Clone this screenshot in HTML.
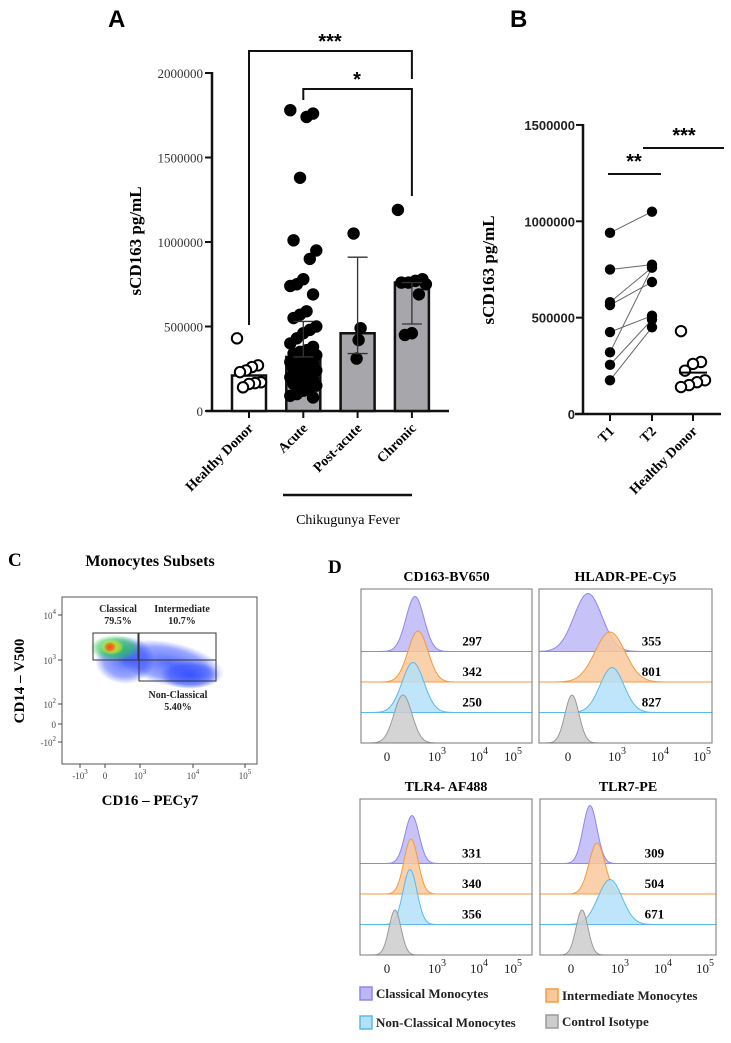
<!DOCTYPE html>
<html><head><meta charset="utf-8"><style>
html,body{margin:0;padding:0;background:#fff}
svg{display:block}
.serif{font-family:"Liberation Serif",serif}
.sans{font-family:"Liberation Sans",sans-serif}
</style></head><body>
<svg id="fig" width="731" height="1043" viewBox="0 0 731 1043" xmlns="http://www.w3.org/2000/svg">
<g id="gA"></g>
<g id="gB"></g>
<g id="gC"></g>
<g id="gD"></g>
</svg>
<script>
// ---- Panel A data ----
const catsA = ["Healthy Donor","Acute","Post-acute","Chronic"];
const meansA = [210000, 320000, 460000, 760000];
const errHiA = [210000, 530000, 910000, 760000];
const errLoA = [210000, 320000, 340000, 515000];
const healthyA = [430000,270000,260000,240000,230000,170000,165000,160000,140000];
const acuteA = [1780000,1760000,1740000,1380000,1010000,950000,900000,780000,750000,740000,690000,590000,570000,550000,500000,480000,460000,430000,400000,380000,360000,350000,340000,330000,320000,310000,300000,290000,280000,270000,260000,250000,240000,230000,220000,210000,200000,190000,180000,170000,160000,150000,140000,120000,100000,90000,80000];
const postA = [1050000,490000,420000,310000];
const chronicA = [1190000,780000,770000,760000,760000,750000,690000,460000,450000];
const ticksA = [0,500000,1000000,1500000,2000000];
// ---- Panel B data ----
const t1B = [940000,750000,580000,565000,425000,320000,255000,175000];
const t2B = [1050000,775000,760000,685000,510000,760000,490000,450000];
const hdB = [430000,270000,260000,225000,175000,165000,150000,140000];
const hdMeanB = 215000;
const ticksB = [0,500000,1000000,1500000];
const catsB = ["T1","T2","Healthy Donor"];
// ---- Panel D data ----
const histTitles = ["CD163-BV650","HLADR-PE-Cy5","TLR4- AF488","TLR7-PE"];
const mfiVals = [[297,342,250],[355,801,827],[331,340,356],[309,504,671]];
const peakCenters = [[415,418,413,403],[588,610,612,572],[412,411,410,395],[590,597,610,582]];

const NS="http://www.w3.org/2000/svg";
function mk(parent,tag,attrs,text){const e=document.createElementNS(NS,tag);for(const k in attrs)e.setAttribute(k,attrs[k]);if(text!==undefined)e.textContent=text;parent.appendChild(e);return e;}

// ===== Panel A =====
(function(){
const g=document.getElementById('gA');
const y0=411, pxPerM=169, xAxis=212;
const yA=v=>y0-v/1e6*pxPerM;
const xA=i=>249+i*54.3;
let t=mk(g,'text',{x:108,y:27,'font-size':24,'font-weight':'bold',class:'sans'},'A');

// axes
let ax=mk(g,'line',{x1:xAxis,y1:y0+1,x2:xAxis,y2:72,stroke:'#111','stroke-width':2.5});

let xa=mk(g,'line',{x1:206,y1:y0,x2:449,y2:y0,stroke:'#111','stroke-width':2.5});

ticksA.forEach(v=>{
 let l=mk(g,'line',{x1:xAxis-7,y1:yA(v),x2:xAxis,y2:yA(v),stroke:'#111','stroke-width':2});
 
 let tt=mk(g,'text',{x:xAxis-9,y:yA(v)+5,'font-size':13,'text-anchor':'end',fill:'#333',class:'serif'},String(v));
 
});
let yt=mk(g,'text',{x:0,y:0,'font-size':17,'font-weight':'bold','text-anchor':'middle',class:'serif',transform:'translate(141,241) rotate(-90)'},'sCD163 pg/mL');

// bars
catsA.forEach((c,i)=>{
 const x=xA(i);
 let b=mk(g,'rect',{x:x-17,y:yA(meansA[i]),width:34,height:y0-yA(meansA[i]),fill:i==0?'#fff':'#a7a7ab',stroke:'#111','stroke-width':2.5});
 
 let tk=mk(g,'line',{x1:x,y1:y0,x2:x,y2:y0+7,stroke:'#111','stroke-width':2});
 
 let lb=mk(g,'text',{x:0,y:0,'font-size':14,'font-weight':'bold','text-anchor':'end',class:'serif',transform:`translate(${x+5},${y0+18}) rotate(-45)`},c);
 
});
function dots(vals,i,open,spread){
 vals.forEach((v,j)=>{
  const off=spread?(((j*7)%9)-4)*spread/4:0;
  let d=mk(g,'circle',{cx:xA(i)+off,cy:yA(v),r:5.2,fill:open?'#fff':'#000',stroke:'#000','stroke-width':2});
  
 });
}
dots(healthyA,0,true,12);dots(acuteA,1,false,13);dots(postA,2,false,4);dots(chronicA,3,false,14);
// error bars
[1,2,3].forEach(i=>{
 const x=xA(i);
 let e=mk(g,'path',{d:`M${x},${yA(errLoA[i])}V${yA(errHiA[i])}M${x-10},${yA(errHiA[i])}H${x+10}M${x-10},${yA(errLoA[i])}H${x+10}`,stroke:'#333','stroke-width':1.3,fill:'none'});
 
});
// brackets
let br1=mk(g,'path',{d:`M${xA(0)},325V51H${xA(3)}V79`,fill:'none',stroke:'#111','stroke-width':2});

let s1=mk(g,'text',{x:330,y:48,'font-size':20,'font-weight':'bold','text-anchor':'middle',class:'sans'},'***');

let br2=mk(g,'path',{d:`M${xA(1)},100V89H${xA(3)}V196`,fill:'none',stroke:'#111','stroke-width':2});

let s2=mk(g,'text',{x:357,y:86,'font-size':20,'font-weight':'bold','text-anchor':'middle',class:'sans'},'*');

let gl=mk(g,'line',{x1:283,y1:495,x2:412,y2:495,stroke:'#111','stroke-width':2.5});

let gt=mk(g,'text',{x:348,y:524,'font-size':14,'text-anchor':'middle',class:'serif'},'Chikugunya Fever');

})();

// ===== Panel B =====
(function(){
const g=document.getElementById('gB');
const y0=414, pxPerM=192.7, xAx=583;
const yB=v=>y0-v/1e6*pxPerM;
const xB=i=>[610,652,693][i];
let t=mk(g,'text',{x:510,y:27,'font-size':24,'font-weight':'bold',class:'sans'},'B');

let ax=mk(g,'line',{x1:xAx,y1:y0+1,x2:xAx,y2:124,stroke:'#111','stroke-width':2.5});

let xa=mk(g,'line',{x1:575,y1:y0,x2:721,y2:y0,stroke:'#111','stroke-width':2.5});

ticksB.forEach(v=>{
 let l=mk(g,'line',{x1:xAx-7,y1:yB(v),x2:xAx,y2:yB(v),stroke:'#111','stroke-width':2});
 
 let tt=mk(g,'text',{x:xAx-8,y:yB(v)+5,'font-size':13,'font-weight':'bold','text-anchor':'end',fill:'#222',class:'sans'},String(v));
 
});
let yt=mk(g,'text',{x:0,y:0,'font-size':17,'font-weight':'bold','text-anchor':'middle',class:'serif',transform:'translate(494,270) rotate(-90)'},'sCD163 pg/mL');

catsB.forEach((c,i)=>{
 let tk=mk(g,'line',{x1:xB(i),y1:y0,x2:xB(i),y2:y0+7,stroke:'#111','stroke-width':2});
 
 let lb=mk(g,'text',{x:0,y:0,'font-size':14,'font-weight':'bold','text-anchor':'end',class:'serif',transform:`translate(${xB(i)+5},${y0+18}) rotate(-45)`},c);
 
});
t1B.forEach((v,j)=>{
 let l=mk(g,'line',{x1:xB(0),y1:yB(v),x2:xB(1),y2:yB(t2B[j]),stroke:'#666','stroke-width':1});
 
});
t1B.forEach(v=>{let d=mk(g,'circle',{cx:xB(0),cy:yB(v),r:5.2,fill:'#000'});});
t2B.forEach(v=>{let d=mk(g,'circle',{cx:xB(1),cy:yB(v),r:5.2,fill:'#000'});});
hdB.forEach((v,j)=>{
 const off=(((j*5)%7)-3)*4;
 let d=mk(g,'circle',{cx:xB(2)+off,cy:yB(v),r:5.2,fill:'#fff',stroke:'#000','stroke-width':2});
 
});
let ml=mk(g,'line',{x1:xB(2)-14,y1:yB(hdMeanB),x2:xB(2)+14,y2:yB(hdMeanB),stroke:'#000','stroke-width':2});

let b1=mk(g,'line',{x1:608,y1:174,x2:661,y2:174,stroke:'#111','stroke-width':2});

let s1=mk(g,'text',{x:634,y:168,'font-size':20,'font-weight':'bold','text-anchor':'middle',class:'sans'},'**');

let b2=mk(g,'line',{x1:643,y1:148,x2:724,y2:148,stroke:'#111','stroke-width':2});

let s2=mk(g,'text',{x:684,y:142,'font-size':20,'font-weight':'bold','text-anchor':'middle',class:'sans'},'***');

})();

// ===== Panel C =====
(function(){
const g=document.getElementById('gC');
let defs=mk(g,'defs',{});
const grads=[['gBlue','#1f3dff',0.75],['gGreen','#22c84a',0.9],['gYel','#e8e82a',0.9],['gRed','#ff3a10',0.9]];
grads.forEach(([id,c,o])=>{const rg=mk(defs,'radialGradient',{id:id});mk(rg,'stop',{offset:'0%','stop-color':c,'stop-opacity':o});mk(rg,'stop',{offset:'70%','stop-color':c,'stop-opacity':o*0.6});mk(rg,'stop',{offset:'100%','stop-color':c,'stop-opacity':0});});
let t=mk(g,'text',{x:8,y:566,'font-size':19,'font-weight':'bold',class:'serif'},'C');

let ti=mk(g,'text',{x:150,y:566,'font-size':16,'font-weight':'bold','text-anchor':'middle',class:'serif'},'Monocytes Subsets');

let box=mk(g,'rect',{x:62,y:597,width:195,height:167,fill:'#fff',stroke:'#555','stroke-width':1});

// density clouds
mk(g,'ellipse',{cx:170,cy:664,rx:55,ry:22,fill:'url(#gBlue)',transform:'rotate(12 170 664)'});
mk(g,'ellipse',{cx:125,cy:660,rx:30,ry:24,fill:'url(#gBlue)'});
mk(g,'ellipse',{cx:190,cy:675,rx:30,ry:14,fill:'url(#gBlue)'});
mk(g,'ellipse',{cx:115,cy:648,rx:25,ry:13,fill:'url(#gGreen)'});
mk(g,'ellipse',{cx:112,cy:647,rx:12,ry:8,fill:'url(#gYel)'});
mk(g,'ellipse',{cx:110,cy:647,rx:6,ry:5,fill:'url(#gRed)'});
// gates
[['gate-classical',93,633,45,27],['gate-intermediate',139,633,77,27],['gate-non-classical',139,660,77,21]].forEach(([n,x,y,w,h])=>{
 let r=mk(g,'rect',{x:x,y:y,width:w,height:h,fill:'none',stroke:'#333','stroke-width':1});
 
});
[['Classical',118,612],['79.5%',118,624],['Intermediate',182,612],['10.7%',182,624],['Non-Classical',178,698],['5.40%',178,710]].forEach(([s,x,y])=>{
 let tx=mk(g,'text',{x:x,y:y,'font-size':10,'font-weight':'bold','text-anchor':'middle',fill:'#222',class:'serif'},s);
 
});
[['10','4',615],['10','3',660],['10','2',704],['0','',724],['-10','2',742]].forEach(([b,e,y])=>{
 let tx=mk(g,'text',{x:56,y:y+4,'font-size':9,'text-anchor':'end',fill:'#444',class:'serif'});
 
 tx.appendChild(document.createTextNode(b));
 if(e){const s=mk(tx,'tspan',{dy:-5,'font-size':7},e);}
 mk(g,'line',{x1:58,y1:y,x2:62,y2:y,stroke:'#444'});
});
[['-10','3',80],['0','',105],['10','3',140],['10','4',193],['10','5',245]].forEach(([b,e,x])=>{
 let tx=mk(g,'text',{x:x,y:779,'font-size':9,'text-anchor':'middle',fill:'#444',class:'serif'});
 
 tx.appendChild(document.createTextNode(b));
 if(e){mk(tx,'tspan',{dy:-5,'font-size':7},e);}
 mk(g,'line',{x1:x,y1:764,x2:x,y2:768,stroke:'#444'});
});
let yt=mk(g,'text',{x:0,y:0,'font-size':15,'font-weight':'bold','text-anchor':'middle',class:'serif',transform:'translate(24,681) rotate(-90)'},'CD14 – V500');

let xt=mk(g,'text',{x:150,y:805,'font-size':15,'font-weight':'bold','text-anchor':'middle',class:'serif'},'CD16 – PECy7');

})();

// ===== Panel D =====
(function(){
const g=document.getElementById('gD');
let t=mk(g,'text',{x:328,y:573,'font-size':19,'font-weight':'bold',class:'serif'},'D');

const cols=[{f:'#bdb7f6',s:'#8f86ee'},{f:'#f9c99b',s:'#f59a3c'},{f:'#b3e1f8',s:'#5bb8ee'},{f:'#cdcdcd',s:'#9a9a9a'}];
const boxes=[[361,589,171,154],[539,589,173,154],[360,799,172,156],[540,799,176,156]];
const sig=[[9,10,11,9],[14,15,12,7],[7,7,7,6],[7,8,12,6]];
const hts=[[55,51,50,48],[58,50,45,48],[48,55,55,45],[58,51,45,45]];
const tickX=[[387,437,479,513],[568,617,660,702],[387,437,479,513],[571,620,663,705]];
boxes.forEach(([bx,by,bw,bh],p)=>{
 let tt=mk(g,'text',{x:bx+bw/2,y:by-8,'font-size':14,'font-weight':'bold','text-anchor':'middle',class:'serif'},histTitles[p]);
 
 let r=mk(g,'rect',{x:bx,y:by,width:bw,height:bh,fill:'#fff',stroke:'#777','stroke-width':1});
 
 const rowH=(bh-63)/3; // baselines
 const bases=[by+bh-3*30.5,by+bh-2*30.5,by+bh-30.5,by+bh];
 for(let k=3;k>=0;k--){}
 [0,1,2,3].forEach(k=>{
  const c=peakCenters[p][k], s=sig[p][k], h=hts[p][k], base=bases[k];
  let d=`M${bx},${base}`;
  for(let x=bx;x<=bx+bw;x+=1){const z=(x-c)/s;d+=`L${x},${(base-h*Math.exp(-0.5*z*z)).toFixed(2)}`;}
  d+=`L${bx+bw},${base}Z`;
  let pa=mk(g,'path',{d:d,fill:cols[k].f,'fill-opacity':0.85,stroke:cols[k].s,'stroke-width':1});
  
  if(k<3){
   let v=mk(g,'text',{x:bx+bw*0.65,y:base-6,'font-size':13,'font-weight':'bold','text-anchor':'middle',class:'serif'},String(mfiVals[p][k]));
   
  }
 });
 mk(g,'rect',{x:bx,y:by,width:bw,height:bh,fill:'none',stroke:'#777','stroke-width':1});
 [['0',''],['10','3'],['10','4'],['10','5']].forEach(([b,e],i)=>{
  let tx=mk(g,'text',{x:tickX[p][i],y:by+bh+18,'font-size':13,'text-anchor':'middle',fill:'#222',class:'serif'});
  
  tx.appendChild(document.createTextNode(b));
  if(e)mk(tx,'tspan',{dy:-7,'font-size':10},e);
 });
});
const leg=[['Classical Monocytes',360,998,0],['Intermediate Monocytes',546,1000,1],['Non-Classical Monocytes',360,1027,2],['Control Isotype',546,1026,3]];
leg.forEach(([s,x,y,k])=>{
 let sq=mk(g,'rect',{x:x,y:y-11,width:12,height:13,fill:cols[k].f,stroke:cols[k].s,'stroke-width':1.5});
 
 let tx=mk(g,'text',{x:x+16,y:y,'font-size':13,'font-weight':'bold',fill:'#222',class:'serif'},s);
 
});
})();
</script>
</body></html>
